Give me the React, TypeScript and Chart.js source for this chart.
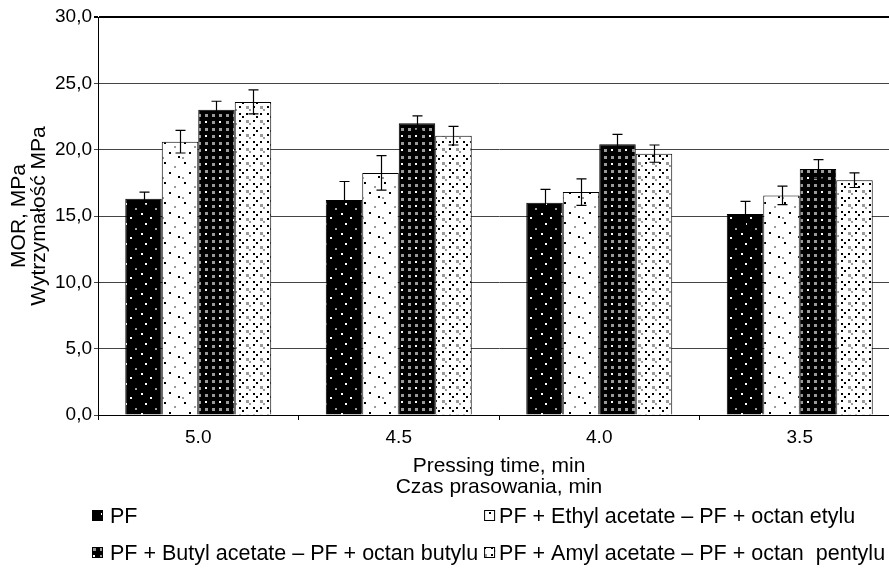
import React, { useEffect, useRef } from "react";
import { Chart, registerables } from "chart.js";
Chart.register(...registerables);

const categories = ["5.0", "4.5", "4.0", "3.5"];
const seriesNames = [
  "PF",
  "PF + Ethyl acetate – PF + octan etylu",
  "PF + Butyl acetate – PF + octan butylu",
  "PF + Amyl acetate – PF + octan  pentylu",
];
const pfValues = [16.3, 16.2, 16.0, 15.15];
const ethylValues = [20.6, 18.25, 16.8, 16.55];
const butylValues = [23.0, 22.0, 20.4, 18.55];
const amylValues = [23.6, 21.05, 19.7, 17.7];
const pfErrors = [0.5, 1.4, 1.0, 0.95];
const ethylErrors = [0.85, 1.3, 1.0, 0.7];
const butylErrors = [0.65, 0.55, 0.75, 0.7];
const amylErrors = [0.9, 0.7, 0.65, 0.55];
const yTitle = ["MOR, MPa", "Wytrzymałość MPa"];
const xTitle = ["Pressing time, min", "Czas prasowania, min"];

const FONT = "'Liberation Sans', Arial, sans-serif";

type Dot = [number, number, number, string];

function makePattern(size: number, bg: string, dots: Dot[]): CanvasPattern | string {
  const c = document.createElement("canvas");
  c.width = size;
  c.height = size;
  const ctx = c.getContext("2d");
  if (!ctx) return bg;
  ctx.fillStyle = bg;
  ctx.fillRect(0, 0, size, size);
  for (const [x, y, s, col] of dots) {
    ctx.fillStyle = col;
    ctx.fillRect(x, y, s, s);
  }
  const p = ctx.createPattern(c, "repeat");
  return p || bg;
}

export default function App() {
  const ref = useRef<HTMLCanvasElement | null>(null);

  useEffect(() => {
    const canvas = ref.current;
    if (!canvas) return;
    document.body.style.margin = "0";

    const G = "#9a9a9a";
    const patterns = [
      makePattern(20, "#000", [
        [5, 3, 2, "#fff"],
        [15, 8, 2, G],
        [1, 13, 2, "#fff"],
        [10, 17, 2, "#fff"],
      ]),
      makePattern(20, "#fff", [
        [4, 2, 2, "#000"],
        [14, 6, 2, G],
        [9, 12, 2, "#000"],
        [18, 16, 2, "#000"],
        [2, 17, 2, G],
      ]),
      makePattern(14, "#000", [
        [2, 2, 3, G],
        [9, 2, 3, G],
        [2, 9, 3, G],
        [9, 9, 2, "#fff"],
      ]),
      makePattern(14, "#fff", [
        [1, 1, 2, "#000"],
        [8, 1, 2, "#000"],
        [1, 8, 2, "#000"],
        [8, 8, 3, G],
        [4, 4, 2, "#000"],
        [11, 11, 2, G],
      ]),
    ];

    const values = [pfValues, ethylValues, butylValues, amylValues];
    const errors = [pfErrors, ethylErrors, butylErrors, amylErrors];

    const errorBarPlugin = {
      id: "errorBars",
      afterDatasetsDraw(chart: any) {
        const ctx = chart.ctx;
        const y = chart.scales.y;
        ctx.save();
        ctx.strokeStyle = "#000";
        ctx.lineWidth = 1.2;
        chart.data.datasets.forEach((ds: any, i: number) => {
          const meta = chart.getDatasetMeta(i);
          meta.data.forEach((el: any, j: number) => {
            const v = values[i][j];
            const e = errors[i][j];
            const x = Math.round(el.x) + 0.5;
            const y1 = y.getPixelForValue(v + e);
            const y2 = y.getPixelForValue(v - e);
            ctx.beginPath();
            ctx.moveTo(x, y1);
            ctx.lineTo(x, y2);
            ctx.moveTo(x - 5, y1);
            ctx.lineTo(x + 5, y1);
            ctx.moveTo(x - 5, y2);
            ctx.lineTo(x + 5, y2);
            ctx.stroke();
          });
        });
        ctx.restore();
      },
    };

    const legendPlugin = {
      id: "customLegend",
      afterDraw(chart: any) {
        const ctx = chart.ctx;
        ctx.save();
        ctx.font = `21.5px ${FONT}`;
        ctx.textBaseline = "middle";
        ctx.fillStyle = "#000";
        const col1Sw = 92;
        const col1Tx = 110;
        const w = ctx.measureText(seriesNames[2]).width;
        const col2Sw = col1Tx + w + 6;
        const col2Tx = col2Sw + 15;
        const rows = [516, 553];
        const pos = [
          [col1Sw, col1Tx, rows[0]],
          [col2Sw, col2Tx, rows[0]],
          [col1Sw, col1Tx, rows[1]],
          [col2Sw, col2Tx, rows[1]],
        ];
        pos.forEach(([sx, tx, ry], i) => {
          ctx.fillStyle = patterns[i] as any;
          ctx.fillRect(sx, ry - 6, 11, 11);
          ctx.strokeStyle = "#000";
          ctx.lineWidth = 1;
          ctx.strokeRect(sx + 0.5, ry - 5.5, 10, 10);
          ctx.fillStyle = "#000";
          ctx.fillText(seriesNames[i], tx, ry + 1);
        });
        ctx.restore();
      },
    };

    const chart = new Chart(canvas, {
      type: "bar",
      data: {
        labels: categories,
        datasets: values.map((vals, i) => ({
          label: seriesNames[i],
          data: vals,
          backgroundColor: patterns[i] as any,
          borderColor: "#000",
          borderWidth: 1,
          categoryPercentage: 0.728,
          barPercentage: 1,
        })),
      },
      options: {
        responsive: false,
        animation: false,
        devicePixelRatio: 1,
        layout: { padding: { left: 0, right: 5, top: 17, bottom: 82 } },
        plugins: {
          legend: { display: false },
          tooltip: { enabled: false },
        },
        scales: {
          x: {
            grid: {
              display: true,
              offset: true,
              drawOnChartArea: false,
              drawTicks: true,
              tickLength: 5,
              color: "#000",
            },
            border: { display: true, color: "#000", width: 1 },
            ticks: {
              color: "#000",
              font: { family: FONT, size: 19 },
              padding: 6,
            },
            title: {
              display: true,
              text: xTitle,
              color: "#000",
              font: { family: FONT, size: 21, lineHeight: 0.97 },
              padding: { top: 0, bottom: 0 },
            },
            afterFit(scale: any) {
              scale.height = 82;
            },
          },
          y: {
            min: 0,
            max: 30,
            ticks: {
              stepSize: 5,
              color: "#000",
              font: { family: FONT, size: 19 },
              padding: 2,
              callback: (v: any) => Number(v).toFixed(1).replace(".", ","),
            },
            grid: {
              color: (c: any) => (c.tick && c.tick.value === 30 ? "#000" : "#444"),
              lineWidth: (c: any) => (c.tick && c.tick.value === 30 ? 2 : 1),
              tickLength: 4,
              drawTicks: true,
            },
            border: { display: true, color: "#000", width: 1 },
            title: {
              display: true,
              text: yTitle,
              color: "#000",
              font: { family: FONT, size: 21, lineHeight: 0.97 },
              padding: { top: 9, bottom: 0 },
            },
            afterFit(scale: any) {
              scale.width = 98;
            },
          },
        },
      },
      plugins: [errorBarPlugin, legendPlugin],
    });

    return () => chart.destroy();
  }, []);

  return (
    <div
      style={{
        position: "absolute",
        left: 0,
        top: 0,
        width: 889,
        height: 579,
        overflow: "hidden",
        background: "#fff",
      }}
    >
      <canvas ref={ref} width={905} height={579} style={{ display: "block" }} />
    </div>
  );
}
